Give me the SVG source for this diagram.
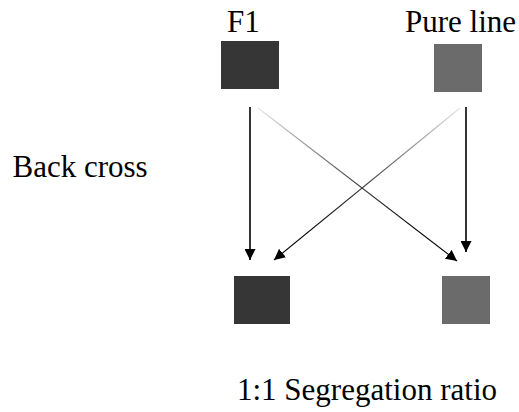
<svg xmlns="http://www.w3.org/2000/svg" width="519" height="412" viewBox="0 0 519 412">
  <style>
    .label { font-family: "Liberation Serif", "Times New Roman", serif; font-size: 31px; fill: #000; }
    .dark { fill: #363636; }
    .grey { fill: #6b6b6b; }
    .vert { stroke: #000; stroke-width: 1.6; fill: none; }
    .diag { stroke-width: 1.1; fill: none; }
  </style>
  <defs>
    <marker id="arrow" markerUnits="userSpaceOnUse" markerWidth="11" markerHeight="11" refX="10" refY="5" orient="auto" viewBox="0 0 10 10">
      <path d="M0,0 L10,5 L0,10 z" fill="#000"/>
    </marker>
    <!-- cross lines fade from light at the top to black at the arrowheads -->
    <linearGradient id="fade" gradientUnits="userSpaceOnUse" x1="0" y1="108" x2="0" y2="235">
      <stop offset="0" stop-color="#e6e6e6"/>
      <stop offset="0.6" stop-color="#404040"/>
      <stop offset="1" stop-color="#000"/>
    </linearGradient>
  </defs>

  <text class="label" x="12.5" y="176.7">Back cross</text>

  <g id="f1">
    <text class="label" x="227" y="31.7">F1</text>
    <rect class="dark" x="221" y="41" width="58" height="48"/>
  </g>

  <g id="pure-line">
    <text class="label" x="405" y="31.7">Pure line</text>
    <rect class="grey" x="434" y="44" width="48" height="48"/>
  </g>

  <g id="offspring-dark">
    <rect class="dark" x="234" y="276" width="56" height="48"/>
  </g>

  <g id="offspring-grey">
    <rect class="grey" x="442" y="276" width="48" height="48"/>
  </g>

  <g id="connectors">
    <line class="vert" x1="250" y1="107" x2="250" y2="260" marker-end="url(#arrow)"/>
    <line class="vert" x1="466" y1="107" x2="466" y2="252" marker-end="url(#arrow)"/>
    <line class="diag" x1="258" y1="108" x2="457" y2="261" stroke="url(#fade)" marker-end="url(#arrow)"/>
    <line class="diag" x1="460" y1="108" x2="274" y2="260" stroke="url(#fade)" marker-end="url(#arrow)"/>
  </g>

  <text class="label" x="237" y="400">1:1 Segregation ratio</text>
</svg>
